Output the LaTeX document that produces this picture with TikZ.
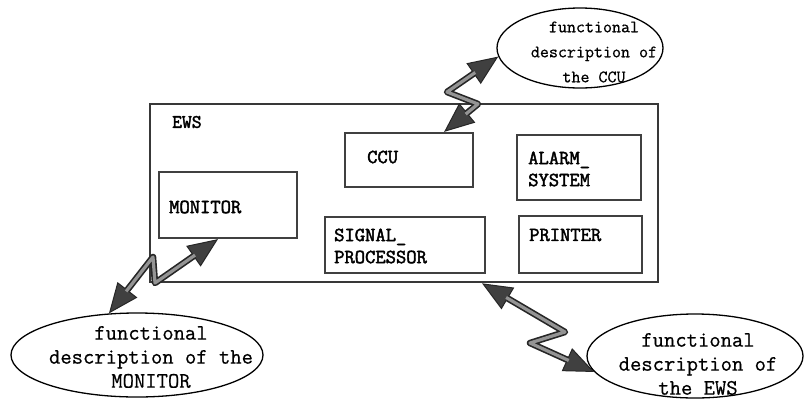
\documentclass[tikz,border=0pt]{standalone}
\usepackage{fontspec}
\newfontfamily\unitfont{Latin Modern Mono}[FakeBold=2.2]
\newfontfamily\cloudfont{Latin Modern Mono}[FakeBold=0.6]
\usetikzlibrary{arrows.meta,shapes.geometric}

\tikzset{
  frame/.style={draw=black!78, line width=2.6pt, inner sep=0pt},
  unit/.style={draw=black!75, line width=2.2pt, inner sep=0pt},
  cloud/.style={ellipse, draw=black, line width=1.3pt, inner sep=0pt},
  unitlabel/.style={anchor=west, inner sep=0pt, align=left,
    font=\fontsize{20}{22}\selectfont\unitfont},
  cloudtext/.style={inner sep=0pt, align=center,
    font=\fontsize{22}{24}\selectfont\cloudfont},
  smallcloudtext/.style={inner sep=0pt, align=center,
    font=\fontsize{17.5}{25}\selectfont\cloudfont},
  boltedge/.style={draw=black!85, line width=6.5pt, line join=round,
    {Triangle[length=30pt,width=25pt,line width=1pt,fill=black!75]}-{Triangle[length=30pt,width=25pt,line width=1pt,fill=black!75]}},
  boltcore/.style={draw=black!42, line width=3.2pt, line join=round,
    shorten <=28pt, shorten >=28pt}
}

\begin{document}
\begin{tikzpicture}[x=1pt,y=-1pt]
  \useasboundingbox[fill=white] (0,0) rectangle (806,400);

  % system frame and its units
  \node[frame, minimum width=508pt, minimum height=178pt] (ews) at (404,193) {};
  \node[unitlabel, font=\fontsize{19}{22}\selectfont\unitfont] (ewslbl) at (172,122) {EWS};

  \node[unit, minimum width=128pt, minimum height=54pt] (ccu) at (409,160) {};
  \node[unitlabel] (cculbl) at (367,157) {CCU};

  \node[unit, minimum width=138pt, minimum height=66pt] (monitor) at (228,205) {};
  \node[unitlabel] (monlbl) at (169,207) {MONITOR};

  \node[unit, minimum width=160pt, minimum height=56pt] (sigproc) at (405,245) {};
  \node[unitlabel] (siglbl) at (334,246) {SIGNAL\_\\PROCESSOR};

  \node[unit, minimum width=124pt, minimum height=65pt] (alarm) at (579,167.5) {};
  \node[unitlabel] (alarmlbl) at (528,169) {ALARM\_\\SYSTEM};

  \node[unit, minimum width=123pt, minimum height=57pt] (printer) at (580.5,244.5) {};
  \node[unitlabel] (printlbl) at (529,235) {PRINTER};

  % functional descriptions
  \node[cloud, minimum width=166pt, minimum height=80pt] (ccuell) at (580,48) {};
  \node[smallcloudtext] (ccutxt) at (594,52) {functional\\description of\\the CCU};

  \node[cloud, minimum width=252pt, minimum height=84pt] (monell) at (137,355) {};
  \node[cloudtext] (montxt) at (151,357) {functional\\description of the\\MONITOR};

  \node[cloud, minimum width=216pt, minimum height=84pt] (ewsell) at (695,356) {};
  \node[cloudtext] (ewstxt) at (698,364) {functional\\description of\\the EWS};

  % bend points of the zigzag links
  \coordinate (c1) at (447,92);
  \coordinate (c2) at (478,104);
  \coordinate (m1) at (153,257);
  \coordinate (m2) at (155,283);
  \coordinate (e1) at (565,332);
  \coordinate (e2) at (530,343);

  % zigzag links
  \foreach \lay in {boltedge,boltcore}{
    \draw[\lay] (ccuell.186) -- (c1) -- (c2) -- ([xshift=-30pt]ccu.north east);
    \draw[\lay] (monell.124) -- (m1) -- (m2) -- ([xshift=-10pt]monitor.south);
    \draw[\lay] ([xshift=78pt]ews.south) -- (e1) -- (e2) -- (ewsell.189);
  }
\end{tikzpicture}
\end{document}
